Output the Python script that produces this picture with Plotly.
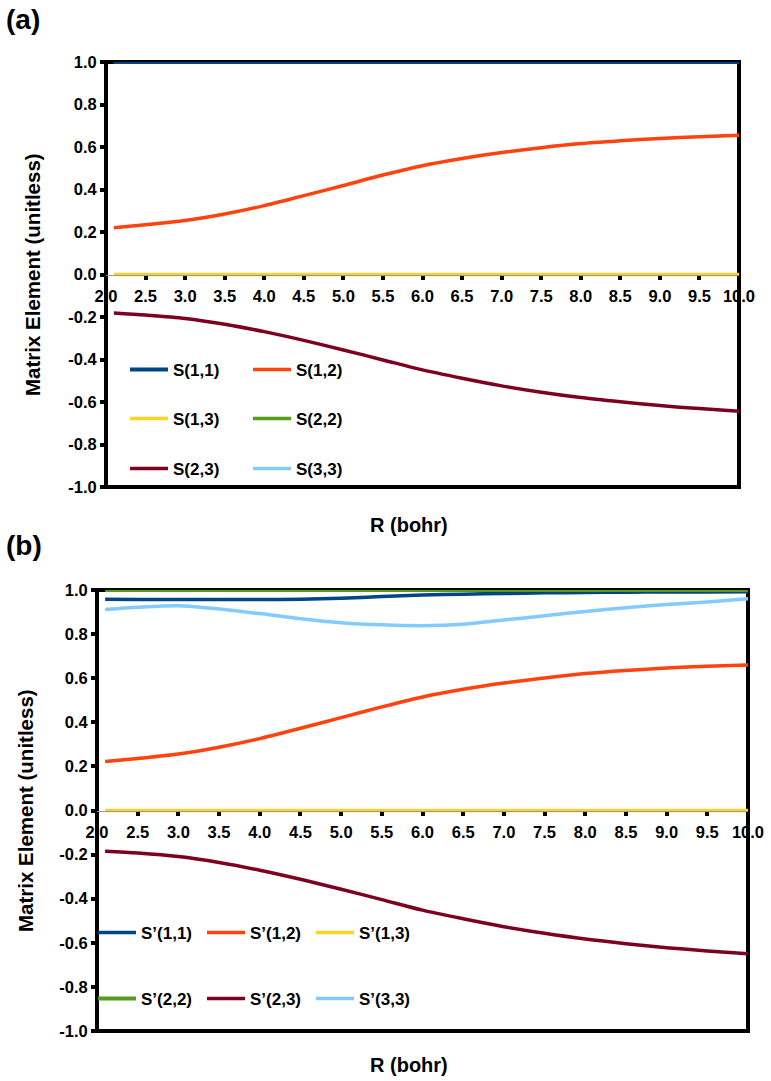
import plotly.graph_objects as go

# ---------------- data ----------------
R = [2.1, 2.5, 3.0, 3.5, 4.0, 4.5, 5.0, 5.5, 6.0, 6.5, 7.0, 7.5, 8.0, 8.5, 9.0, 9.5, 10.0]

# panel (a)
S11 = [1.0] * len(R)
S12 = [0.220, 0.234, 0.254, 0.285, 0.324, 0.371, 0.419, 0.468, 0.512, 0.546, 0.574, 0.597, 0.616, 0.629, 0.640, 0.648, 0.655]
S13 = [0.0] * len(R)
S22 = [1.0] * len(R)
S23 = [-0.181, -0.191, -0.207, -0.234, -0.269, -0.310, -0.355, -0.402, -0.449, -0.488, -0.524, -0.554, -0.579, -0.599, -0.617, -0.631, -0.643]
S33 = [1.0] * len(R)

# panel (b)
Sp11 = [0.958, 0.957, 0.957, 0.957, 0.957, 0.958, 0.963, 0.970, 0.977, 0.981, 0.984, 0.987, 0.989, 0.990, 0.991, 0.991, 0.992]
Sp12 = [0.222, 0.236, 0.256, 0.287, 0.326, 0.373, 0.421, 0.470, 0.515, 0.550, 0.578, 0.601, 0.621, 0.635, 0.646, 0.654, 0.660]
Sp13 = [0.0] * len(R)
Sp22 = [1.0] * len(R)
Sp23 = [-0.185, -0.193, -0.209, -0.236, -0.271, -0.312, -0.357, -0.404, -0.452, -0.491, -0.527, -0.557, -0.583, -0.604, -0.622, -0.637, -0.650]
Sp33 = [0.912, 0.922, 0.929, 0.914, 0.893, 0.870, 0.852, 0.842, 0.838, 0.845, 0.864, 0.883, 0.903, 0.920, 0.934, 0.946, 0.960]

x_ticks = [2.0, 2.5, 3.0, 3.5, 4.0, 4.5, 5.0, 5.5, 6.0, 6.5, 7.0, 7.5, 8.0, 8.5, 9.0, 9.5, 10.0]
x_ticklabels = ["2.0", "2.5", "3.0", "3.5", "4.0", "4.5", "5.0", "5.5", "6.0", "6.5", "7.0", "7.5", "8.0", "8.5", "9.0", "9.5", "10.0"]
y_ticks = [1.0, 0.8, 0.6, 0.4, 0.2, 0.0, -0.2, -0.4, -0.6, -0.8, -1.0]
y_ticklabels = ["1.0", "0.8", "0.6", "0.4", "0.2", "0.0", "-0.2", "-0.4", "-0.6", "-0.8", "-1.0"]

COL = {
    "11": "#004586", "12": "#ff420e", "13": "#ffd320",
    "22": "#579d1c", "23": "#7e0021", "33": "#83caff",
}

W, H = 771, 1081
FONT = "Liberation Sans, Arial, sans-serif"

fig = go.Figure()

top = [
    (S22, "22", "S(2,2)", 4, (253, 419)),
    (S33, "33", "S(3,3)", 6, (253, 469)),
    (S13, "13", "S(1,3)", 3, (130, 419)),
    (S12, "12", "S(1,2)", 2, (253, 370)),
    (S23, "23", "S(2,3)", 5, (130, 469)),
    (S11, "11", "S(1,1)", 1, (130, 370)),
]
bot = [
    (Sp13, "13", "S\u2019(1,3)", 9, (316, 933)),
    (Sp33, "33", "S\u2019(3,3)", 12, (316, 999)),
    (Sp12, "12", "S\u2019(1,2)", 8, (207, 933)),
    (Sp23, "23", "S\u2019(2,3)", 11, (207, 999)),
    (Sp11, "11", "S\u2019(1,1)", 7, (98, 933)),
    (Sp22, "22", "S\u2019(2,2)", 10, (98, 999)),
]

legends = {}
for group, xa, ya in ((top, "x", "y"), (bot, "x2", "y2")):
    for ys, key, name, lid, (lx, ly) in group:
        lname = "legend" if lid == 1 else f"legend{lid}"
        fig.add_trace(go.Scatter(
            x=R, y=ys, mode="lines", name=name,
            line=dict(color=COL[key], width=4 if lid in (1, 10) else 3.5, shape="spline", smoothing=0.8),
            xaxis=xa, yaxis=ya, legend=lname, showlegend=True,
        ))
        legends[lname] = dict(
            x=(lx - 5) / W, y=1 - ly / H, xanchor="left", yanchor="middle",
            bgcolor="rgba(0,0,0,0)", borderwidth=0,
            font=dict(family=FONT, size=17, color="black", weight="bold"),
            itemwidth=38, tracegroupgap=0,
        )

dom_top_x = [106 / W, 739 / W]
dom_top_y = [1 - 487 / H, 1 - 62 / H]
dom_bot_x = [97 / W, 748 / W]
dom_bot_y = [1 - 1031 / H, 1 - 590 / H]

tickfont = dict(family=FONT, size=16.5, color="black", weight="bold")


def xaxis(domain, ydom):
    return dict(
        domain=domain, range=[2, 10], anchor="free", position=(ydom[0] + ydom[1]) / 2,
        tickvals=x_ticks, ticktext=x_ticklabels, ticks="outside", ticklen=4, tickwidth=4,
        tickcolor="black", showline=True, linecolor="#9a9a9a", linewidth=1,
        showgrid=False, zeroline=False, tickfont=tickfont, ticklabelstandoff=3,
        automargin=False,
    )


def yaxis(domain, xdom):
    return dict(
        domain=domain, range=[-1, 1], anchor="free", position=xdom[0],
        tickvals=y_ticks, ticktext=y_ticklabels, ticks="outside", ticklen=6, tickwidth=4,
        tickcolor="black", showline=False, showgrid=False, zeroline=False, tickfont=tickfont,
        automargin=False,
    )


TITLE_FONT = dict(family=FONT, size=20, color="black", weight="bold")
PANEL_FONT = dict(family=FONT, size=28, color="black", weight="bold")

layout = dict(
    width=W, height=H, margin=dict(l=0, r=0, t=0, b=0, pad=0, autoexpand=False),
    paper_bgcolor="white", plot_bgcolor="white",
    xaxis=xaxis(dom_top_x, dom_top_y), yaxis=yaxis(dom_top_y, dom_top_x),
    xaxis2=xaxis(dom_bot_x, dom_bot_y), yaxis2=yaxis(dom_bot_y, dom_bot_x),
    shapes=[
        dict(type="rect", xref="x domain", yref="y domain", x0=0, x1=1, y0=0, y1=1,
             line=dict(color="black", width=4), layer="below"),
        dict(type="rect", xref="x2 domain", yref="y2 domain", x0=0, x1=1, y0=0, y1=1,
             line=dict(color="black", width=4), layer="below"),
    ],
    annotations=[
        dict(text="(a)", x=4 / W, y=1 - 20 / H, xref="paper", yref="paper", xanchor="left",
             yanchor="middle", showarrow=False, font=PANEL_FONT),
        dict(text="(b)", x=4 / W, y=1 - 545 / H, xref="paper", yref="paper", xanchor="left",
             yanchor="middle", showarrow=False, font=PANEL_FONT),
        dict(text="Matrix Element (unitless)", x=32 / W, y=1 - 275 / H, xref="paper", yref="paper",
             textangle=-90, showarrow=False, xanchor="center", yanchor="middle",
             font=dict(TITLE_FONT, size=20.5)),
        dict(text="Matrix Element (unitless)", x=25 / W, y=1 - 811 / H, xref="paper", yref="paper",
             textangle=-90, showarrow=False, xanchor="center", yanchor="middle",
             font=dict(TITLE_FONT, size=20.5)),
        dict(text="R (bohr)", x=409 / W, y=1 - 525 / H, xref="paper", yref="paper",
             showarrow=False, xanchor="center", yanchor="middle", font=TITLE_FONT),
        dict(text="R (bohr)", x=409 / W, y=1 - 1065 / H, xref="paper", yref="paper",
             showarrow=False, xanchor="center", yanchor="middle", font=TITLE_FONT),
    ],
)
layout.update(legends)
fig.update_layout(**layout)

fig.write_html("out.html")
